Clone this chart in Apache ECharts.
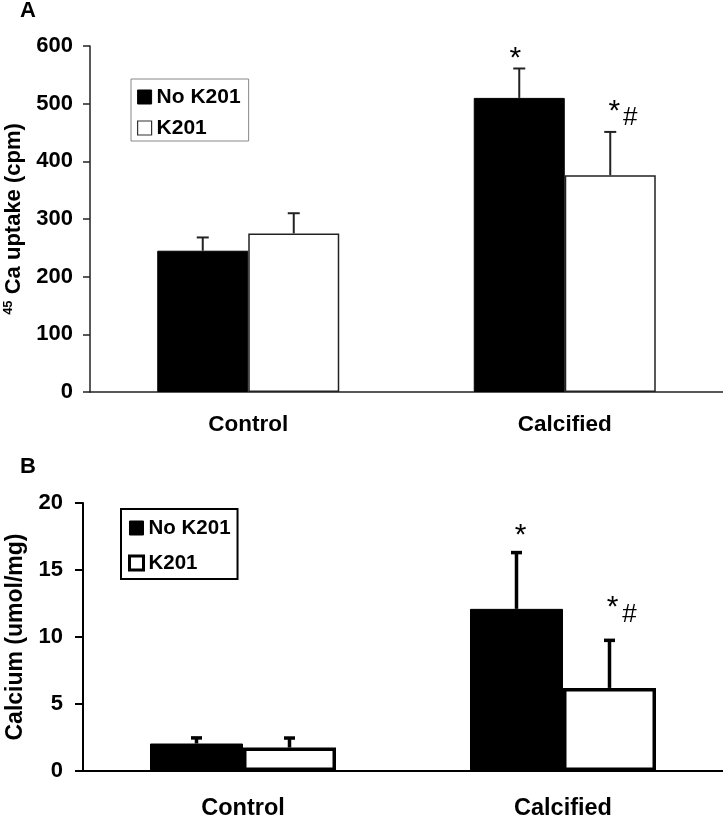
<!DOCTYPE html>
<html><head><meta charset="utf-8">
<script src="https://cdn.jsdelivr.net/npm/echarts@6/dist/echarts.min.js"></script>
<style>html,body{margin:0;padding:0;background:#fff}#c{width:723px;height:819px}</style>
</head><body><div id="c"></div>
<script>
const categories = ['Control', 'Calcified'];
const seriesNames = ['No K201', 'K201'];

// Panel A: 45Ca uptake (cpm)
const uptakeNoK201 = [245, 510];
const uptakeNoK201Err = [23, 51];
const uptakeK201 = [275, 376];
const uptakeK201Err = [35, 75];
const uptakeNoK201Ann = ['', '*'];
const uptakeK201Ann = ['', '*#'];
const uptakeTicks = { min: 0, max: 600, interval: 100 };

// Panel B: Calcium (umol/mg)
const calciumNoK201 = [2.05, 12.1];
const calciumNoK201Err = [0.42, 4.2];
const calciumK201 = [1.75, 6.2];
const calciumK201Err = [0.71, 3.55];
const calciumNoK201Ann = ['', '*'];
const calciumK201Ann = ['', '*#'];
const calciumTicks = { min: 0, max: 20, interval: 5 };

const FONT = 'Liberation Sans, Arial, sans-serif';
const chart = echarts.init(document.getElementById('c'));

function errSeries(name, gi, vals, errs, anns, side, barW, lw, cap, color, ann) {
  return {
    type: 'custom', name: name + ' err', xAxisIndex: gi, yAxisIndex: gi, z: 5,
    silent: true,
    data: vals.map((v, i) => [i, v, errs[i]]),
    renderItem: function (params, api) {
      const i = api.value(0), m = api.value(1), e = api.value(2);
      const b = api.coord([i, m]), t = api.coord([i, m + e]);
      const x = b[0] + side * barW / 2;
      const children = [
        { type: 'line', shape: { x1: x, y1: b[1], x2: x, y2: t[1] }, style: { stroke: color, lineWidth: lw } },
        { type: 'line', shape: { x1: x - cap / 2, y1: t[1], x2: x + cap / 2, y2: t[1] }, style: { stroke: color, lineWidth: lw } }
      ];
      const a = anns[params.dataIndex];
      if (a === '*') {
        children.push({ type: 'text', style: { text: '*', x: x + ann.sx, y: t[1] + ann.sy, font: 'normal ' + ann.sf + 'px ' + FONT, textAlign: 'center', textVerticalAlign: 'middle', fill: '#000' } });
      } else if (a === '*#') {
        children.push({ type: 'text', style: { text: '*', x: x + ann.px, y: t[1] + ann.py, font: 'normal ' + ann.sf + 'px ' + FONT, textAlign: 'center', textVerticalAlign: 'middle', fill: '#000' } });
        children.push({ type: 'text', style: { text: '#', x: x + ann.hx, y: t[1] + ann.hy, font: 'normal ' + ann.hf + 'px ' + FONT, textAlign: 'center', textVerticalAlign: 'middle', fill: '#000' } });
      }
      return { type: 'group', children: children };
    }
  };
}

const annA = { sx: -4, sy: -10, px: 4, py: -20, hx: 20, hy: -14, sf: 30, hf: 26 };
const annB = { sx: 4, sy: -17, px: 3, py: -33, hx: 20, hy: -26, sf: 30, hf: 26 };

chart.setOption({
  animation: false,
  backgroundColor: '#fff',
  title: [
    { text: 'A', left: 20, top: 0, padding: 0, textStyle: { fontFamily: FONT, fontSize: 22, fontWeight: 'bold', color: '#000' } },
    { text: 'B', left: 20, top: 456, padding: 0, textStyle: { fontFamily: FONT, fontSize: 22, fontWeight: 'bold', color: '#000' } }
  ],
  legend: [
    {
      orient: 'vertical', left: 131, top: 79, padding: [6, 8, 1, 6], itemGap: 7,
      backgroundColor: '#fff', borderColor: '#888', borderWidth: 1, borderRadius: 0,
      itemWidth: 14, itemHeight: 14, icon: 'rect',
      textStyle: { fontFamily: FONT, fontSize: 21, fontWeight: 'bold', color: '#000', lineHeight: 24 },
      data: [
        { name: seriesNames[0], itemStyle: { color: '#000', borderColor: '#000', borderWidth: 1 } },
        { name: seriesNames[1], itemStyle: { color: '#fff', borderColor: '#333', borderWidth: 1.2 } }
      ]
    },
    {
      orient: 'vertical', left: 121, top: 509, padding: [7, 7, 4, 7], itemGap: 11,
      backgroundColor: '#fff', borderColor: '#000', borderWidth: 2, borderRadius: 0,
      itemWidth: 14, itemHeight: 14, icon: 'rect',
      textStyle: { fontFamily: FONT, fontSize: 20.5, fontWeight: 'bold', color: '#000', lineHeight: 24 },
      data: [
        { name: seriesNames[0], itemStyle: { color: '#000', borderColor: '#000', borderWidth: 1 } },
        { name: seriesNames[1], itemStyle: { color: '#fff', borderColor: '#000', borderWidth: 3 } }
      ]
    }
  ],
  grid: [
    { left: 90, right: 0, top: 46, height: 346, outerBoundsMode: 'none', containLabel: false },
    { left: 83, right: 0, top: 503, height: 268, outerBoundsMode: 'none', containLabel: false }
  ],
  xAxis: [
    {
      type: 'category', gridIndex: 0, data: categories,
      axisLine: { lineStyle: { color: '#222', width: 1.5 } }, axisTick: { show: false },
      axisLabel: { margin: 21, fontFamily: FONT, fontSize: 22.5, fontWeight: 'bold', color: '#000' }
    },
    {
      type: 'category', gridIndex: 1, data: categories,
      axisLine: { lineStyle: { color: '#000', width: 2 } }, axisTick: { show: false },
      axisLabel: { margin: 26, fontFamily: FONT, fontSize: 23.5, fontWeight: 'bold', color: '#000' }
    }
  ],
  yAxis: [
    {
      type: 'value', gridIndex: 0, min: uptakeTicks.min, max: uptakeTicks.max, interval: uptakeTicks.interval,
      splitLine: { show: false },
      axisLine: { show: true, lineStyle: { color: '#222', width: 1.5 } },
      axisTick: { show: true, length: 7, lineStyle: { color: '#222', width: 1.5 } },
      axisLabel: { margin: 17, fontFamily: FONT, fontSize: 22, fontWeight: 'bold', color: '#000' },
      name: '{s|45}{m| Ca uptake (cpm)}', nameLocation: 'middle', nameGap: 63, nameRotate: 90,
      nameTextStyle: {
        fontFamily: FONT, color: '#000',
        rich: {
          s: { fontFamily: FONT, fontSize: 13, fontWeight: 'bold', color: '#000', verticalAlign: 'top', lineHeight: 24 },
          m: { fontFamily: FONT, fontSize: 22, fontWeight: 'bold', color: '#000', lineHeight: 24 }
        }
      }
    },
    {
      type: 'value', gridIndex: 1, min: calciumTicks.min, max: calciumTicks.max, interval: calciumTicks.interval,
      splitLine: { show: false },
      axisLine: { show: true, lineStyle: { color: '#000', width: 2 } },
      axisTick: { show: true, length: 8, lineStyle: { color: '#000', width: 2 } },
      axisLabel: { margin: 20, fontFamily: FONT, fontSize: 22, fontWeight: 'bold', color: '#000' },
      name: 'Calcium (umol/mg)', nameLocation: 'middle', nameGap: 56, nameRotate: 90,
      nameTextStyle: { fontFamily: FONT, fontSize: 23, fontWeight: 'bold', color: '#000' }
    }
  ],
  series: [
    { type: 'bar', name: seriesNames[0], xAxisIndex: 0, yAxisIndex: 0, data: uptakeNoK201, barWidth: 91, barGap: '0%',
      itemStyle: { color: '#000', borderColor: '#000', borderWidth: 1 } },
    { type: 'bar', name: seriesNames[1], xAxisIndex: 0, yAxisIndex: 0, data: uptakeK201, barWidth: 91, barGap: '0%',
      itemStyle: { color: '#fff', borderColor: '#222', borderWidth: 1.5 } },
    { type: 'bar', name: seriesNames[0], xAxisIndex: 1, yAxisIndex: 1, data: calciumNoK201, barWidth: 93, barGap: '0%',
      itemStyle: { color: '#000', borderColor: '#000', borderWidth: 1 } },
    { type: 'bar', name: seriesNames[1], xAxisIndex: 1, yAxisIndex: 1, data: calciumK201, barWidth: 93, barGap: '0%',
      itemStyle: { color: '#fff', borderColor: '#000', borderWidth: 3.5 } },
    errSeries(seriesNames[0], 0, uptakeNoK201, uptakeNoK201Err, uptakeNoK201Ann, -1, 91, 2, 12, '#222', annA),
    errSeries(seriesNames[1], 0, uptakeK201, uptakeK201Err, uptakeK201Ann, 1, 91, 2, 12, '#222', annA),
    errSeries(seriesNames[0], 1, calciumNoK201, calciumNoK201Err, calciumNoK201Ann, -1, 93, 3.5, 11, '#000', annB),
    errSeries(seriesNames[1], 1, calciumK201, calciumK201Err, calciumK201Ann, 1, 93, 3.5, 11, '#000', annB)
  ]
});
</script>
</body></html>
